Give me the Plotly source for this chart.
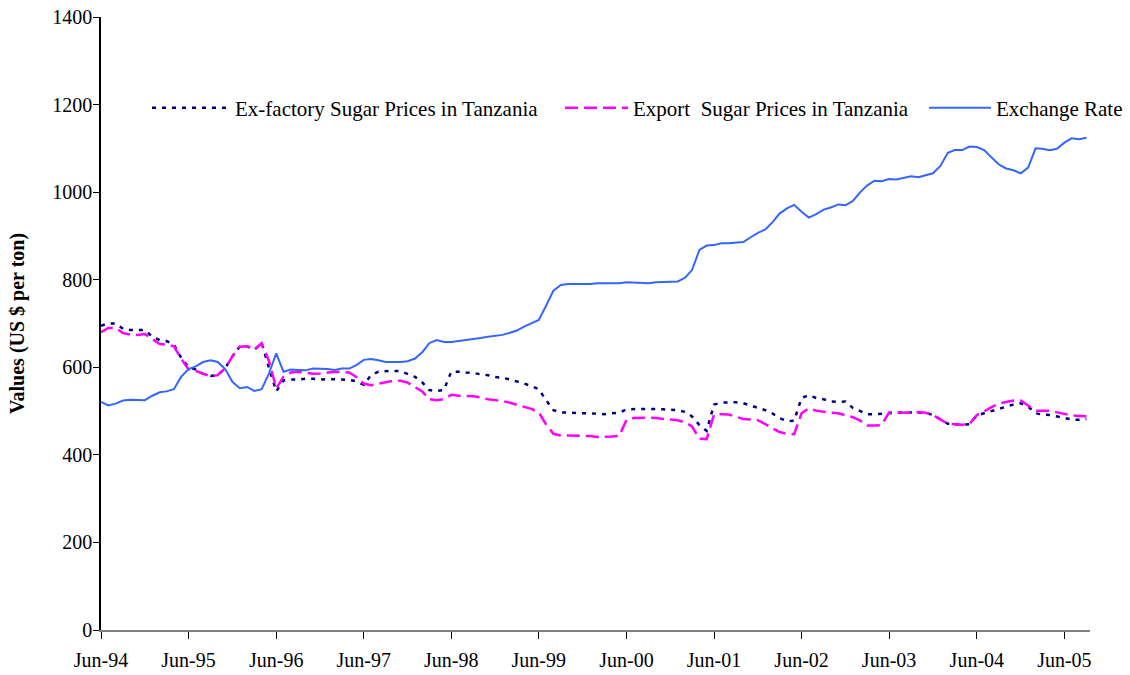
import pandas as pd
import plotly.graph_objects as go

months = pd.date_range("1994-06-01", "2005-09-01", freq="MS")

ex_factory = [
    695, 700, 700, 688, 685, 685, 685, 670, 662, 660, 652, 622,
    600, 595, 585, 580, 582, 598, 625, 647, 648, 640, 655, 600,
    545, 570, 572, 572, 574, 574, 572, 573, 573, 572, 571, 568,
    560, 582, 590, 591, 592, 591, 585, 578, 565, 548, 546, 548,
    590, 590, 588, 587, 584, 582, 578, 576, 572, 568, 563, 557,
    550, 525, 502, 497, 496, 495, 495, 495, 494, 493, 495, 496,
    504, 505, 505, 505, 505, 504, 503, 502, 498, 488, 468, 455,
    515, 519, 520, 520, 518, 513, 508, 502, 494, 484, 477, 478,
    530, 536, 530, 527, 522, 521, 522, 507, 500, 493, 493, 494,
    496, 497, 497, 497, 497, 496, 491, 480, 471, 470, 469, 470,
    490, 495, 500, 505, 510, 515, 518, 510, 495, 492, 491, 488,
    484, 481, 480, 482,
]

export = [
    680, 690, 690, 678, 675, 674, 676, 665, 653, 652, 648, 620,
    595, 592, 585, 580, 582, 598, 625, 647, 648, 640, 655, 615,
    552, 578, 588, 590, 587, 585, 586, 588, 590, 589, 588, 578,
    563, 559, 563, 566, 569, 569, 565, 555, 544, 527, 525, 527,
    537, 535, 534, 534, 531, 527, 525, 523, 519, 515, 510, 505,
    497, 470, 448, 444, 444, 444, 444, 443, 441, 441, 442, 443,
    480, 484, 485, 485, 484, 482, 481, 479, 474, 465, 437, 436,
    492, 493, 492, 487, 482, 481, 479, 470, 460, 452, 448, 447,
    495, 506, 501, 498, 496, 495, 490, 486, 478, 467, 467, 468,
    497, 497, 497, 496, 498, 496, 491, 480, 471, 470, 469, 470,
    491, 499, 509, 517, 521, 524, 524, 512, 501, 501, 501, 497,
    494, 490, 489, 488,
]

exchange = [
    521, 513, 517, 524, 526, 525, 525, 535, 543, 545, 550, 578,
    596, 602, 612, 616, 612, 596, 567, 552, 555, 546, 550, 585,
    632, 590, 595, 594, 593, 597, 597, 596, 594, 597, 597, 605,
    617, 619, 616, 612, 612, 612, 614, 620, 635, 655, 662, 658,
    658, 660, 663, 664, 667, 670, 672, 674, 679, 684, 693, 700,
    708, 740, 775, 788, 790, 790, 790, 790, 792, 792, 792, 792,
    794, 793, 792, 792, 794, 795, 795, 796, 805, 822, 868, 878,
    879, 883, 883, 884, 886, 897, 907, 915, 932, 951, 963, 971,
    955, 942, 950, 960, 965, 972, 970, 980, 1000, 1015, 1026, 1025,
    1030, 1029, 1032, 1036, 1034, 1038, 1043, 1060, 1090, 1096, 1096, 1104,
    1103, 1096, 1080, 1063, 1054, 1050, 1043, 1056, 1100, 1099, 1096, 1099,
    1113, 1123, 1121, 1124,
]

series_names = [
    "Ex-factory Sugar Prices in Tanzania",
    "Export  Sugar Prices in Tanzania",
    "Exchange Rate",
]

FONT = "Liberation Serif, Times New Roman, serif"
W, H = 1130, 675

fig = go.Figure()
fig.add_trace(go.Scatter(
    x=months, y=ex_factory, mode="lines", name=series_names[0],
    line=dict(color="#000080", width=2.5, dash="4px,6px"), legend="legend",
))
fig.add_trace(go.Scatter(
    x=months, y=export, mode="lines", name=series_names[1].replace("  ", "&nbsp; "),
    line=dict(color="#FF00FF", width=2.5, dash="13px,6px"), legend="legend2",
))
fig.add_trace(go.Scatter(
    x=months, y=exchange, mode="lines", name=series_names[2],
    line=dict(color="#3366FF", width=2), legend="legend3",
))


def legend_box(px_left, item_w):
    return dict(
        orientation="h", xref="container", yref="container",
        x=px_left / W, y=1 - 108 / H, xanchor="left", yanchor="middle",
        bgcolor="rgba(0,0,0,0)", borderwidth=0,
        font=dict(family=FONT, size=21, color="black"),
        itemwidth=item_w,
    )


fig.update_layout(
    width=W, height=H,
    margin=dict(l=101, r=40, t=17, b=45, autoexpand=False),
    paper_bgcolor="white", plot_bgcolor="white",
    font=dict(family=FONT, size=20, color="black"),
    showlegend=True,
    legend=legend_box(147, 78),
    legend2=legend_box(560, 63),
    legend3=legend_box(924, 62),
    xaxis=dict(
        type="date", automargin=False,
        range=["1994-06-01", "2005-09-16"],
        tick0="1994-06-01", dtick="M12", tickformat="%b-%y",
        ticks="outside", ticklen=7, tickcolor="black", tickwidth=1,
        ticklabelstandoff=4,
        showline=True, linecolor="#808080", linewidth=1.5,
        showgrid=False, zeroline=False,
        tickfont=dict(family=FONT, size=20, color="black"),
    ),
    yaxis=dict(
        range=[0, 1400], dtick=200, automargin=False,
        ticks="outside", ticklen=6, tickcolor="black", tickwidth=1,
        ticklabelstandoff=-3,
        showline=True, linecolor="black", linewidth=1.5,
        showgrid=False, zeroline=False,
        tickfont=dict(family=FONT, size=20, color="black"),
        title=dict(text="Values (US $ per ton)",
                   font=dict(family=FONT, size=20, color="black", weight="bold"),
                   standoff=22),
    ),
)

fig.write_html("out.html", config={"displayModeBar": False},
               post_script="document.body.style.margin='0';")
